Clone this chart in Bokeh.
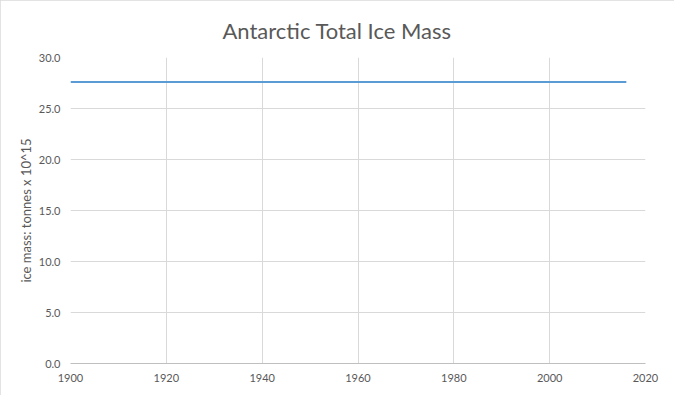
from bokeh.plotting import figure
from bokeh.models import Range1d, FixedTicker, NumeralTickFormatter
from bokeh.embed import file_html
from bokeh.resources import INLINE

years = [1900, 1910, 1920, 1930, 1940, 1950, 1960, 1970, 1980, 1990, 2000, 2010, 2016]
ice_mass = [27.6, 27.6, 27.6, 27.6, 27.6, 27.6, 27.6, 27.6, 27.6, 27.6, 27.6, 27.6, 27.6]
x_ticks = [1900, 1920, 1940, 1960, 1980, 2000, 2020]
y_ticks = [0, 5, 10, 15, 20, 25, 30]

W, H = 674, 395
p = figure(width=W, height=H, output_backend="svg", toolbar_location=None,
           x_range=Range1d(1900, 2020), y_range=Range1d(0, 30),
           title="Antarctic Total Ice Mass",
           min_border_left=70, min_border_right=29, min_border_top=56, min_border_bottom=32)
p.styles = {"outline": "3px solid #dadada", "outline-offset": "-3px"}

p.line(years, ice_mass, line_color="#5b9bd5", line_width=2)

p.title.align = "left"
p.title.text_font = "Lato"
p.title.text_font_size = "22px"
p.title.text_font_style = "normal"
p.title.text_color = "#595959"
p.title.text_line_height = 0.6
p.title.offset = 152
p.title.standoff = 28

p.outline_line_color = None
p.xaxis.ticker = FixedTicker(ticks=x_ticks)
p.yaxis.ticker = FixedTicker(ticks=y_ticks)
p.yaxis.formatter = NumeralTickFormatter(format="0.0")
for ax in (p.xaxis, p.yaxis):
    ax.major_tick_out = 0
    ax.major_tick_in = 0
    ax.minor_tick_out = 0
    ax.minor_tick_in = 0
    ax.major_label_text_font = "Lato"
    ax.major_label_text_font_size = "11px"
    ax.major_label_text_color = "#595959"
p.xaxis.axis_line_color = "#bfbfbf"
p.yaxis.axis_line_color = None
p.xaxis.major_label_standoff = 10
p.yaxis.major_label_standoff = 10
p.yaxis.axis_label = "ice mass: tonnes x 10^15"
p.yaxis.axis_label_text_font = "Lato"
p.yaxis.axis_label_text_font_size = "13px"
p.yaxis.axis_label_text_font_style = "normal"
p.yaxis.axis_label_text_color = "#595959"
p.yaxis.axis_label_standoff = 2

p.xgrid.grid_line_color = "#d9d9d9"
p.ygrid.grid_line_color = "#d9d9d9"

open("out.html", "w").write(file_html(p, INLINE))
